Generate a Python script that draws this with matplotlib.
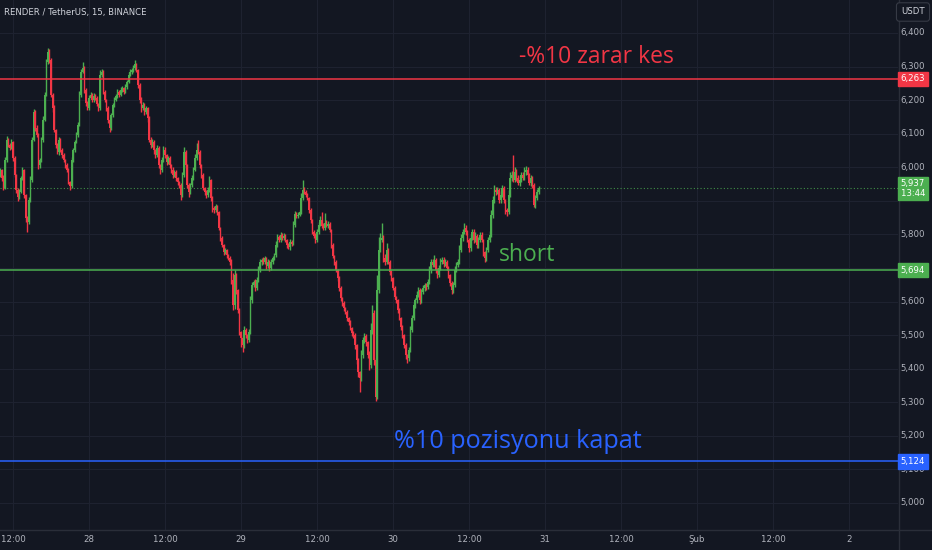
import matplotlib
matplotlib.use("Agg")
import matplotlib.pyplot as plt
from matplotlib.transforms import blended_transform_factory
from matplotlib.lines import Line2D
import numpy as np

# ---------------------------------------------------------------- data
TITLE = "RENDER / TetherUS, 15, BINANCE"
QUOTE = "USDT"
START_HOUR = 10.0          # first bar: 27 Jan 10:00 (hours counted from 27 Jan 00:00)
BAR_HOURS = 0.25           # 15-minute bars
FIRST_OPEN = 5.975

CLOSE = [
    5.992, 5.968, 5.938, 6.021, 6.081, 6.066, 6.057, 6.075, 6.027, 5.977, 5.932, 5.911, 5.926, 5.968, 5.992, 5.917, 5.849, 5.837, 5.902, 5.962,
    6.081, 6.164, 6.117, 6.096, 6.006, 6.021, 6.081, 6.141, 6.215, 6.313, 6.343, 6.319, 6.215, 6.176, 6.111, 6.066, 6.045, 6.081, 6.051, 6.036,
    6.021, 6.006, 5.992, 5.956, 5.944, 6.021, 6.051, 6.075, 6.096, 6.126, 6.215, 6.284, 6.295, 6.230, 6.191, 6.176, 6.206, 6.215, 6.200, 6.212,
    6.206, 6.188, 6.176, 6.275, 6.284, 6.224, 6.200, 6.176, 6.141, 6.117, 6.155, 6.185, 6.200, 6.212, 6.224, 6.215, 6.230, 6.236, 6.224, 6.239,
    6.254, 6.275, 6.284, 6.290, 6.295, 6.307, 6.290, 6.245, 6.200, 6.176, 6.185, 6.164, 6.176, 6.146, 6.081, 6.066, 6.075, 6.051, 6.036, 6.057,
    6.006, 5.992, 6.021, 6.051, 6.036, 6.015, 6.027, 6.006, 5.992, 5.977, 5.986, 5.968, 5.956, 5.947, 5.917, 5.977, 6.045, 6.006, 5.947, 5.926,
    5.947, 5.968, 5.992, 6.027, 6.051, 6.045, 6.006, 5.977, 5.938, 5.926, 5.917, 5.932, 5.962, 5.908, 5.878, 5.872, 5.884, 5.866, 5.819, 5.789,
    5.768, 5.747, 5.753, 5.738, 5.729, 5.718, 5.664, 5.589, 5.679, 5.634, 5.575, 5.509, 5.491, 5.470, 5.515, 5.500, 5.485, 5.509, 5.604, 5.649,
    5.658, 5.640, 5.664, 5.694, 5.718, 5.724, 5.718, 5.729, 5.706, 5.718, 5.700, 5.718, 5.729, 5.738, 5.768, 5.792, 5.783, 5.798, 5.789, 5.795,
    5.783, 5.768, 5.762, 5.777, 5.771, 5.828, 5.861, 5.855, 5.858, 5.866, 5.908, 5.932, 5.926, 5.917, 5.908, 5.872, 5.843, 5.807, 5.795, 5.783,
    5.807, 5.828, 5.843, 5.825, 5.819, 5.834, 5.825, 5.831, 5.813, 5.768, 5.735, 5.718, 5.694, 5.670, 5.640, 5.610, 5.595, 5.581, 5.569, 5.551,
    5.539, 5.521, 5.506, 5.500, 5.470, 5.426, 5.390, 5.372, 5.441, 5.485, 5.497, 5.479, 5.441, 5.411, 5.515, 5.566, 5.426, 5.315, 5.634, 5.753,
    5.783, 5.789, 5.729, 5.718, 5.753, 5.718, 5.688, 5.670, 5.640, 5.613, 5.604, 5.575, 5.551, 5.524, 5.500, 5.470, 5.441, 5.432, 5.455, 5.515,
    5.551, 5.589, 5.604, 5.619, 5.634, 5.604, 5.628, 5.640, 5.649, 5.643, 5.658, 5.694, 5.718, 5.709, 5.724, 5.694, 5.679, 5.700, 5.718, 5.724,
    5.712, 5.718, 5.700, 5.679, 5.655, 5.634, 5.649, 5.694, 5.709, 5.718, 5.753, 5.789, 5.807, 5.819, 5.807, 5.783, 5.759, 5.789, 5.807, 5.783,
    5.795, 5.768, 5.783, 5.798, 5.783, 5.747, 5.729, 5.753, 5.783, 5.798, 5.858, 5.902, 5.932, 5.926, 5.932, 5.902, 5.917, 5.938, 5.902, 5.872,
    5.866, 5.917, 5.968, 5.977, 5.962, 5.986, 5.968, 5.953, 5.962, 5.977, 5.968, 5.986, 5.992, 5.977, 5.953, 5.968, 5.947, 5.887, 5.908, 5.926,
    5.937,
]

# wick lengths above / below the candle body, in thousandths of a USDT
UPPER_WICK = [
    6, 4, 8, 10, 12, 5, 7, 9, 4, 6, 3, 5, 8, 6, 10, 4, 3, 7, 9, 12,
    8, 10, 6, 9, 5, 7, 8, 11, 9, 10, 12, 8, 6, 5, 9, 4, 6, 10, 7, 5,
    6, 4, 8, 5, 3, 9, 7, 6, 10, 8, 12, 9, 18, 6, 5, 7, 10, 8, 6, 9,
    5, 7, 4, 15, 10, 6, 5, 4, 7, 3, 8, 6, 9, 7, 10, 5, 8, 6, 4, 9,
    7, 10, 8, 6, 9, 12, 5, 4, 6, 8, 10, 5, 7, 4, 6, 9, 8, 5, 4, 10,
    6, 4, 9, 12, 8, 5, 7, 6, 4, 8, 5, 6, 4, 3, 5, 10, 14, 6, 4, 7,
    6, 9, 10, 12, 20, 30, 6, 4, 5, 3, 6, 8, 11, 4, 5, 7, 6, 4, 5, 3,
    6, 4, 7, 5, 3, 6, 8, 22, 15, 6, 4, 5, 3, 6, 12, 5, 4, 9, 14, 10,
    6, 8, 10, 12, 9, 7, 10, 8, 5, 9, 6, 10, 8, 7, 12, 10, 6, 9, 5, 8,
    6, 4, 5, 8, 6, 12, 10, 7, 9, 8, 14, 30, 8, 6, 5, 4, 6, 3, 5, 8,
    10, 9, 12, 25, 8, 30, 10, 9, 6, 4, 5, 3, 6, 4, 5, 7, 3, 6, 4, 5,
    3, 6, 4, 5, 7, 3, 6, 4, 15, 10, 8, 6, 4, 12, 20, 24, 8, 5, 46, 39,
    20, 45, 8, 12, 22, 6, 5, 7, 4, 6, 5, 3, 6, 4, 5, 3, 6, 4, 10, 12,
    9, 10, 8, 12, 9, 6, 10, 8, 7, 6, 9, 12, 10, 8, 14, 6, 5, 10, 12, 9,
    8, 10, 6, 5, 4, 6, 10, 12, 8, 9, 14, 12, 10, 14, 8, 6, 5, 12, 10, 8,
    12, 6, 9, 10, 8, 4, 5, 10, 9, 12, 14, 12, 15, 10, 9, 6, 12, 10, 5, 4,
    6, 15, 18, 12, 59, 14, 10, 8, 12, 10, 9, 14, 12, 10, 6, 8, 5, 6, 10, 9,
    6,
]
LOWER_WICK = [
    5, 8, 6, 4, 5, 7, 6, 3, 8, 5, 9, 10, 6, 4, 5, 8, 12, 30, 6, 4,
    5, 3, 8, 6, 10, 7, 4, 5, 3, 4, 5, 8, 6, 10, 7, 9, 5, 8, 6, 7,
    5, 8, 6, 7, 12, 5, 4, 6, 3, 5, 4, 6, 3, 8, 9, 6, 5, 4, 7, 5,
    6, 5, 8, 4, 5, 7, 6, 9, 8, 12, 5, 4, 6, 3, 5, 6, 4, 5, 7, 4,
    5, 3, 4, 6, 5, 4, 6, 8, 9, 10, 6, 8, 5, 10, 6, 9, 7, 10, 8, 5,
    9, 12, 6, 5, 7, 8, 6, 9, 10, 8, 6, 10, 8, 9, 15, 6, 5, 8, 10, 15,
    7, 6, 5, 4, 6, 5, 8, 9, 6, 10, 8, 6, 5, 9, 10, 8, 6, 9, 7, 8,
    6, 9, 5, 8, 6, 9, 12, 14, 10, 12, 10, 9, 27, 20, 8, 10, 9, 6, 5, 8,
    6, 9, 7, 5, 6, 8, 5, 7, 9, 6, 8, 5, 7, 6, 5, 4, 6, 5, 7, 6,
    5, 8, 6, 7, 5, 4, 6, 5, 7, 4, 5, 6, 5, 7, 6, 9, 8, 7, 6, 9,
    5, 6, 4, 7, 5, 6, 4, 5, 7, 8, 6, 9, 7, 8, 10, 7, 9, 8, 7, 9,
    8, 7, 9, 8, 10, 12, 15, 42, 10, 8, 9, 12, 10, 15, 10, 12, 14, 10, 6, 8,
    5, 6, 10, 8, 6, 7, 9, 8, 7, 6, 8, 9, 7, 8, 10, 9, 12, 15, 8, 6,
    7, 6, 8, 9, 5, 10, 8, 6, 9, 8, 5, 6, 9, 7, 6, 10, 8, 5, 6, 7,
    8, 6, 7, 9, 10, 12, 8, 6, 5, 7, 6, 5, 8, 6, 9, 7, 10, 8, 6, 9,
    7, 9, 8, 6, 7, 10, 12, 8, 6, 5, 6, 8, 7, 9, 6, 8, 7, 5, 9, 10,
    12, 6, 5, 8, 6, 7, 9, 6, 8, 7, 5, 6, 8, 9, 7, 10, 8, 5, 8, 6,
    5,
]

STOP_LEVEL = 6.263
ENTRY_LEVEL = 5.694
TARGET_LEVEL = 5.124
LAST_PRICE = 5.937
COUNTDOWN = "13:44"

STOP_TEXT = "-%10 zarar kes"
ENTRY_TEXT = "short"
TARGET_TEXT = "%10 pozisyonu kapat"

PRICE_TICKS = [5.0, 5.1, 5.2, 5.3, 5.4, 5.5, 5.6, 5.7, 5.8, 5.9, 6.0, 6.1, 6.2, 6.3, 6.4]
TIME_TICKS = [12, 24, 36, 48, 60, 72, 84, 96, 108, 120, 132, 144]
TIME_LABELS = ["12:00", "28", "12:00", "29", "12:00", "30", "12:00", "31", "12:00", "Şub", "12:00", "2"]

# ---------------------------------------------------------------- style
BG = "#131722"
GRID = "#1e2230"
AXIS_TXT = "#b2b5be"
BORDER = "#2a2e39"
UP = "#4caf50"
DOWN = "#f23645"
RED_LINE = "#f23645"
GREEN_LINE = "#4caf50"
BLUE_LINE = "#2962ff"
SMALL = dict(family="DejaVu Sans", fontstretch="condensed")

W, H = 932, 550
PLOT_R = 898          # right edge of plotting area (px)
PLOT_B = 530          # bottom edge of plotting area (px)

fig = plt.figure(figsize=(W / 100, H / 100), dpi=100, facecolor=BG)
ax = fig.add_axes([0, (H - PLOT_B) / H, PLOT_R / W, PLOT_B / H], facecolor=BG)
for s in ax.spines.values():
    s.set_visible(False)
ax.set_xticks([])
ax.set_yticks([])
ax.set_xlim(9.95, 151.75)
ax.set_ylim(4.9195, 6.4983)

def fmt(v):
    return f"{v:.3f}".replace(".", ",")

# grid
for p in PRICE_TICKS:
    ax.axhline(p, color=GRID, lw=0.8, zorder=0)
for t in TIME_TICKS:
    ax.axvline(t, color=GRID, lw=0.8, zorder=0)

# candles
close = np.array(CLOSE)
opn = np.concatenate([[FIRST_OPEN], close[:-1]])
hi = np.maximum(opn, close) + np.array(UPPER_WICK) / 1000.0
lo = np.minimum(opn, close) - np.array(LOWER_WICK) / 1000.0
t = START_HOUR + BAR_HOURS * np.arange(len(close))
cols = np.where(close >= opn, UP, DOWN)
ax.vlines(t, lo, hi, colors=cols, lw=1.0, zorder=3)
body_lo = np.minimum(opn, close)
body_h = np.maximum(np.abs(close - opn), 0.0025)
ax.bar(t, body_h, bottom=body_lo, width=0.22, color=cols, linewidth=0, zorder=4)

# last price dotted line
last_col = UP if close[-1] >= opn[-1] else DOWN
ax.axhline(LAST_PRICE, color=last_col, lw=0.8, ls=(0, (1, 2)), alpha=0.8, zorder=2)

# horizontal levels
ax.axhline(STOP_LEVEL, color=RED_LINE, lw=1.1, zorder=5)
ax.axhline(ENTRY_LEVEL, color=GREEN_LINE, lw=1.1, zorder=5)
ax.axhline(TARGET_LEVEL, color=BLUE_LINE, lw=1.1, zorder=5)

# level notes
note_font = dict(family="Open Sans", va="center", ha="left", zorder=6)
ax.text(91.9, 6.328, STOP_TEXT, color=RED_LINE, fontsize=16.5, **note_font)
ax.text(88.7, 5.738, ENTRY_TEXT, color=GREEN_LINE, fontsize=16.5, **note_font)
ax.text(72.2, 5.184, TARGET_TEXT, color=BLUE_LINE, fontsize=18.2, **note_font)

# title
fig.text(4 / W, 1 - 12 / H, TITLE, color="#d1d4dc", fontsize=6.8, va="center", ha="left", **SMALL)

# panel borders
fig.add_artist(Line2D([PLOT_R / W + 0.5 / W] * 2, [0, 1], transform=fig.transFigure, color=BORDER, lw=1))
fig.add_artist(Line2D([0, 1], [(H - PLOT_B) / H] * 2, transform=fig.transFigure, color=BORDER, lw=1))

# price scale (labels sitting under a price tag are hidden, as the scale does)
ytr = blended_transform_factory(fig.transFigure, ax.transData)
lab_x = 913 / W
tag_cover = [(STOP_LEVEL, 0.025), (LAST_PRICE, 0.045), (ENTRY_LEVEL, 0.025)]
for p in PRICE_TICKS:
    if any(abs(p - lv) < r for lv, r in tag_cover):
        continue
    fig.text(lab_x, p, fmt(p), transform=ytr, color=AXIS_TXT, fontsize=6.8, ha="center", va="center",
             zorder=3, **SMALL)

def price_tag(level, text, color, pad=0.3):
    fig.text(lab_x, level, text, transform=ytr, color="white", fontsize=6.8, ha="center", va="center",
             linespacing=1.1, zorder=10,
             bbox=dict(boxstyle=f"square,pad={pad}", facecolor=color, edgecolor=color), **SMALL)

price_tag(STOP_LEVEL, fmt(STOP_LEVEL), RED_LINE)
price_tag(LAST_PRICE, fmt(LAST_PRICE) + "\n" + COUNTDOWN, UP, pad=0.25)
price_tag(ENTRY_LEVEL, fmt(ENTRY_LEVEL), GREEN_LINE)
price_tag(TARGET_LEVEL, fmt(TARGET_LEVEL), BLUE_LINE)

# quote currency button
fig.text(913 / W, 1 - 12 / H, QUOTE, color="#d1d4dc", fontsize=6.8, ha="center", va="center",
         bbox=dict(boxstyle="round,pad=0.5,rounding_size=0.3", facecolor=BG, edgecolor="#363a45", lw=0.8),
         **SMALL)

# time scale
xtr = blended_transform_factory(ax.transData, fig.transFigure)
for tt, lab in zip(TIME_TICKS, TIME_LABELS):
    fig.text(tt, 1 - 540 / H, lab, transform=xtr, color=AXIS_TXT, fontsize=6.8, ha="center", va="center",
             **SMALL)

fig.savefig("out.png", dpi=100, facecolor=BG)
